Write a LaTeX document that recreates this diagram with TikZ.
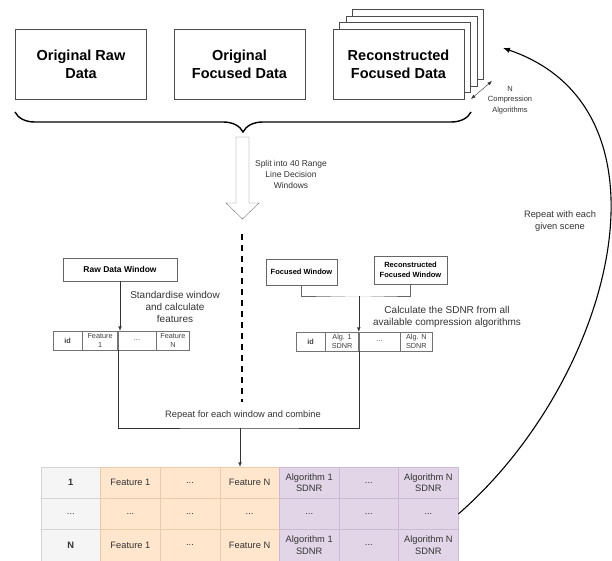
\documentclass[tikz,border=0pt]{standalone}
\usepackage{fontspec}
\setmainfont{Liberation Sans}
\usetikzlibrary{decorations.pathreplacing,arrows.meta}

\definecolor{cellgray}{HTML}{F5F5F5}
\definecolor{gridgray}{HTML}{D4D4D4}
\definecolor{cellorange}{HTML}{FFE6CC}
\definecolor{gridorange}{HTML}{EBCBA9}
\definecolor{cellpurple}{HTML}{E1D5E7}
\definecolor{gridpurple}{HTML}{CBBAD4}
\newcommand{\tdots}{...}

\tikzset{
 databox/.style={draw=black!70,fill=white,minimum width=131pt,minimum height=70pt,inner sep=0pt,align=center,font=\fontsize{14.5}{18}\selectfont\bfseries},
 winbox/.style={draw=black!60,fill=white,inner sep=0pt,align=center,font=\fontsize{7.5}{9.5}\selectfont\bfseries},
 scell/.style={draw=black!55,minimum height=19pt,inner sep=0pt,align=center,text=black!75,font=\fontsize{7.3}{8.3}\selectfont},
 cell/.style={draw=grid#1,fill=cell#1,minimum width=59.6pt,minimum height=31.3pt,inner sep=0pt,align=center,text=black!80,font=\fontsize{9.3}{11.5}\selectfont},
 note/.style={align=center,text=black!80,font=\fontsize{#1}{12}\selectfont},
 note/.default=9.3,
 arrow/.style={-{Latex[length=4.5pt,width=3.5pt]},black!80},
}

\begin{document}
\begin{tikzpicture}[x=1pt,y=-1pt]
\useasboundingbox (0,0) rectangle (612,561);

% data sources
\foreach \k in {3,2,1}
 \draw[draw=black!70,fill=white] (333+6.5*\k,29-6.5*\k) rectangle +(131,70);
\node[databox] (rawdata) at (81,64) {Original Raw\\Data};
\node[databox] (focdata) at (239.5,64) {Original\\Focused Data};
\node[databox] (recdata) at (398.5,64) {Reconstructed\\Focused Data};
\coordinate (stacklo) at (471,99);
\coordinate (stackhi) at (492,81);
\draw[{Latex[length=4.5pt,width=3.5pt]}-{Latex[length=4.5pt,width=3.5pt]},black!80] (stacklo) -- (stackhi);
\node[note=7.5] (ncomp) at (510,100) {N\\[-1.5pt]Compression\\[-1.5pt]Algorithms};

\draw[decorate,decoration={brace,mirror,amplitude=20pt},line width=1.4pt] (15,112) -- (471,112);

% split into windows
\draw[black!55,fill=white] (236,137) -- (249,137) -- (249,203) -- (259,203) -- (242.5,219)
 -- (226,203) -- (236,203) -- cycle;
\node[note=8.5] (split) at (291,174) {Split into 40 Range\\[-1pt]Line Decision\\[-1pt]Windows};
\draw[line width=2.2pt,dash pattern=on 6pt off 5pt] (242,234) -- (242,402);

% raw side
\node[winbox,minimum width=114pt,minimum height=23pt,font=\fontsize{8.5}{10}\selectfont\bfseries] (rawwin) at (120,269.5) {Raw Data Window};
\node[note=10] (stdtxt) at (175,306.5) {Standardise window\\and calculate\\features};
\node[scell,minimum width=29pt,anchor=west] (t1a) at (53,340.5) {\textbf{id}};
\node[scell,minimum width=35pt,anchor=west] (t1b) at (t1a.east) {Feature\\1};
\node[scell,minimum width=38pt,anchor=west] (t1c) at (t1b.east) {\tdots};
\node[scell,minimum width=33pt,anchor=west] (t1d) at (t1c.east) {Feature\\N};
\draw[arrow] (rawwin.south) -- (rawwin.south |- t1a.north);

% focused side
\node[winbox,minimum width=71pt,minimum height=26pt] (focwin) at (301.5,272) {Focused Window};
\node[winbox,minimum width=73pt,minimum height=28pt] (recwin) at (410.5,270) {Reconstructed\\Focused Window};
\node[note=10] (sdnrtxt) at (447,317) {Calculate the SDNR from all\\available compression algorithms};
\node[scell,minimum width=29pt,anchor=west] (t2a) at (296,341.5) {\textbf{id}};
\node[scell,minimum width=33pt,anchor=west] (t2b) at (t2a.east) {Alg. 1\\SDNR};
\node[scell,minimum width=41pt,anchor=west] (t2c) at (t2b.east) {\tdots};
\node[scell,minimum width=32pt,anchor=west] (t2d) at (t2c.east) {Alg. N\\SDNR};
\path (t2b.north east) ++(0,-36) coordinate (fork);
\draw[black!60] (focwin.south) |- (fork) -| (recwin.south);
\draw[arrow] (fork) -- (t2b.north east);

% combine
\coordinate (join) at (240,428);
\draw[black!80] (t1b.south east) |- (join) -| (t2b.south east);
\node[note] (combtxt) at (243,415) {Repeat for each window and combine};

% final table
\foreach \c/\col/\txt/\last in {1/gray/\textbf{1}/\textbf{N}, 2/orange/Feature 1/Feature 1,
  3/orange/\tdots/\tdots, 4/orange/Feature N/Feature N, 5/purple/{Algorithm 1\\SDNR}/{Algorithm 1\\SDNR},
  6/purple/\tdots/\tdots, 7/purple/{Algorithm N\\SDNR}/{Algorithm N\\SDNR}}{
 \node[cell=\col] (r1c\c) at ({41+59.6*(\c-0.5)},482.65) {\txt};
 \node[cell=\col] (r2c\c) at ({41+59.6*(\c-0.5)},513.95) {\tdots};
 \node[cell=\col] (r3c\c) at ({41+59.6*(\c-0.5)},545.25) {\last};
}
\draw[arrow] (join) -- (join |- r1c4.north);

% loop back
\coordinate (backtip) at (503,48);
\node[note] (looptxt) at (560,221.5) {Repeat with each\\given scene};
\draw[-{Latex[length=7pt,width=5.5pt]},line width=1.1pt] (r2c7.east) .. controls (612,380) and (684,110) .. (backtip);
\end{tikzpicture}
\end{document}
